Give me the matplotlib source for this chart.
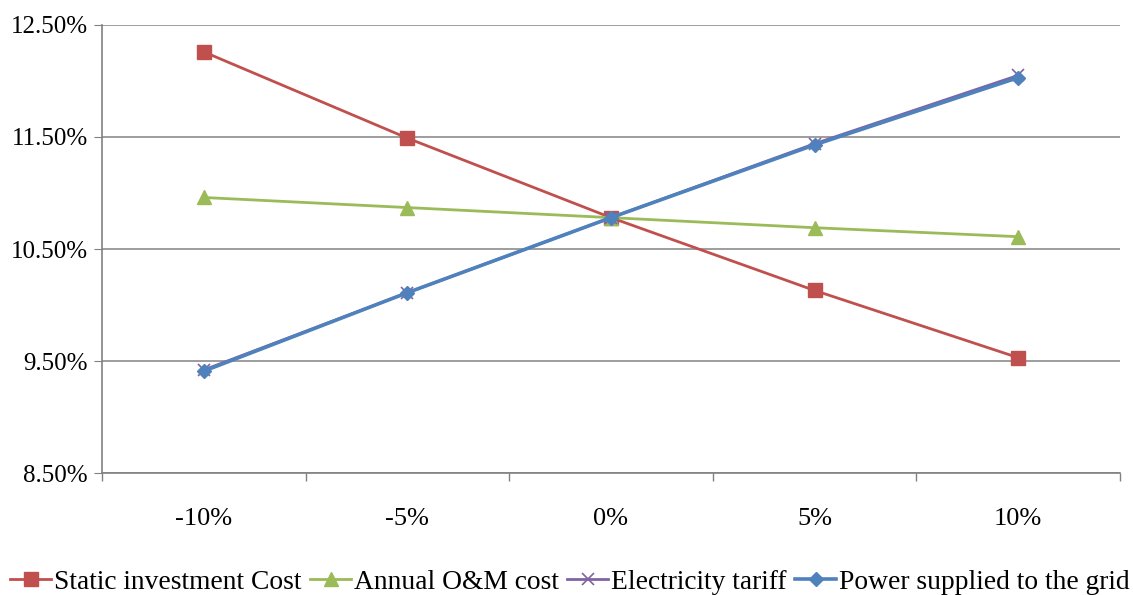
import numpy as np
import matplotlib.pyplot as plt
from matplotlib.ticker import FuncFormatter

categories = ['-10%', '-5%', '0%', '5%', '10%']
static_cost = [12.26, 11.49, 10.78, 10.13, 9.53]
annual_om = [10.96, 10.87, 10.78, 10.69, 10.61]
elec_tariff = [9.42, 10.11, 10.78, 11.44, 12.05]
power_grid = [9.41, 10.11, 10.78, 11.43, 12.03]

plt.rcParams['font.family'] = ['Liberation Serif', 'DejaVu Serif']

fig = plt.figure(figsize=(11.33, 5.95), dpi=100)
ax = fig.add_axes([0.090, 0.205, 0.8985, 0.753])

x = np.arange(len(categories))
ax.plot(x, static_cost, color='#C0504D', marker='s', markersize=10, lw=2,
        label='Static investment Cost', zorder=3)
ax.plot(x, annual_om, color='#9BBB59', marker='^', markersize=10, lw=2,
        label='Annual O&M cost', zorder=3)
ax.plot(x, elec_tariff, color='#8064A2', marker='x', markersize=9, lw=2,
        mew=1.2, label='Electricity tariff', zorder=3)
ax.plot(x, power_grid, color='#4F81BD', marker='D', markersize=7.5, lw=2.6,
        label='Power supplied to the grid', zorder=4)

ax.set_xlim(-0.5, len(categories) - 0.5)
ax.set_ylim(8.5, 12.5)
ax.set_yticks(np.arange(8.5, 12.51, 1.0))
ax.yaxis.set_major_formatter(FuncFormatter(lambda v, p: f'{v:.2f}%'))
ax.set_xticks(x)
ax.set_xticklabels(categories)
ax.set_xticks(np.arange(-0.5, len(categories), 1.0), minor=True)
ax.tick_params(axis='x', which='major', length=0, labelsize=19, pad=25)
ax.tick_params(axis='x', which='minor', length=6, color='#808080', width=1)
ax.tick_params(axis='y', length=6, color='#808080', labelsize=18, pad=4)

ax.grid(axis='y', color='#959595', lw=1.3)
ax.set_axisbelow(True)
for s in ['top', 'right']:
    ax.spines[s].set_visible(False)
for s in ['left', 'bottom']:
    ax.spines[s].set_color('#808080')
    ax.spines[s].set_linewidth(1.2)

fig.legend(loc='center', bbox_to_anchor=(0.503, 0.022), ncol=4, frameon=False,
           fontsize=19.8, handlelength=1.5, handletextpad=0.1, columnspacing=0.3,
           borderaxespad=0, borderpad=0)

fig.savefig('out.png', dpi=100)
